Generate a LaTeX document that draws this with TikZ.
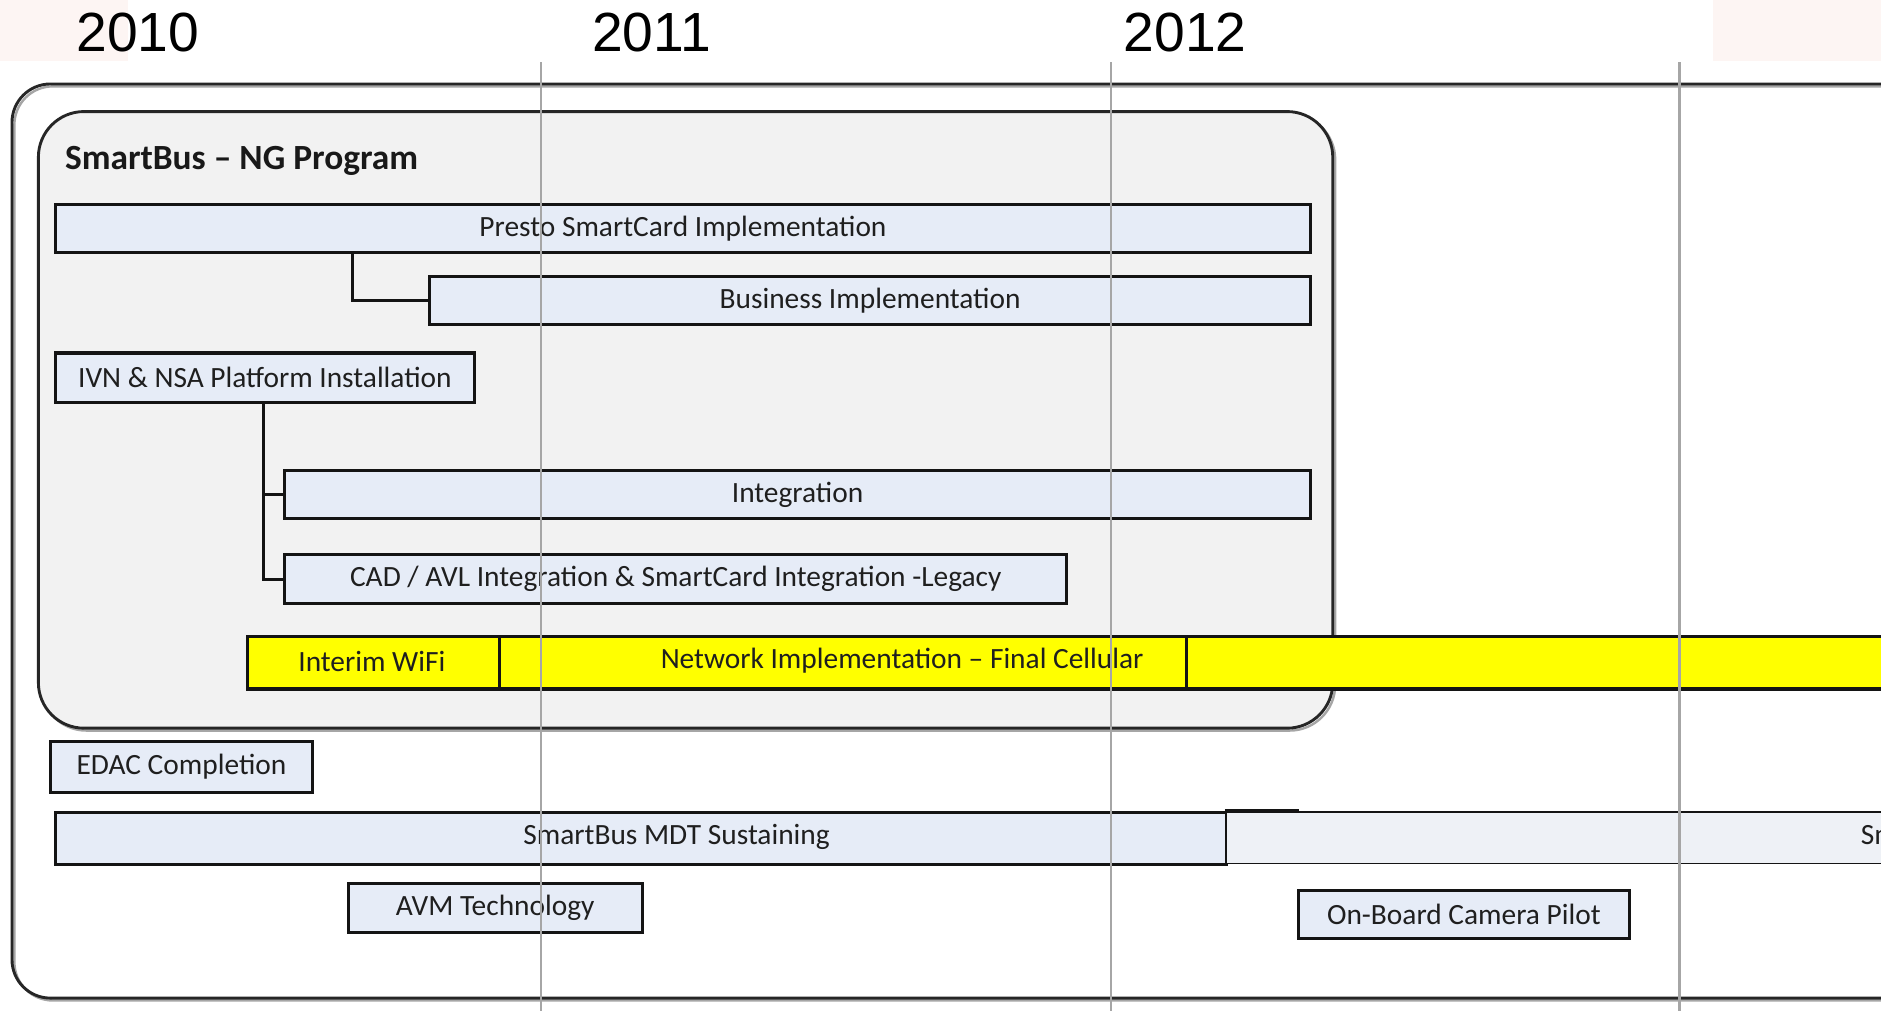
\documentclass[tikz,border=0pt]{standalone}
\usepackage{fontspec}
\setmainfont{Carlito}
\newfontfamily\yearfont{Liberation Sans}
\definecolor{barblue}{HTML}{E6ECF7}
\definecolor{contblue}{HTML}{EEF1F6}
\definecolor{innergray}{HTML}{F2F2F2}
\definecolor{pinkbg}{HTML}{FDF5F3}
\definecolor{gridgray}{HTML}{A6A6A6}
\definecolor{hiyellow}{HTML}{FFFF00}
\begin{document}
\begin{tikzpicture}[x=1pt,y=-1pt,
  bar/.style={draw=black!92, line width=2.6pt, fill=barblue, inner sep=0pt, anchor=north west,
    font=\fontsize{24.5}{28}\selectfont, text=black!88},
  ybar/.style={bar, fill=hiyellow},
  lbl/.style={inner sep=0pt, font=\fontsize{24.5}{28}\selectfont, text=black!88},
  conn/.style={draw=black!92, line width=2.6pt},
  gridline/.style={draw=gridgray, line width=2.2pt},
  year/.style={font=\yearfont\fontsize{46}{50}\selectfont, inner sep=0pt},
  frame/.style={draw=black!85, line width=2.4pt}]
\useasboundingbox (0,0) rectangle (1568,843);
\clip (0,0) rectangle (1568,843);
% background tints
\fill[pinkbg] (0,0) rectangle (107,51);
\fill[pinkbg] (1428,0) rectangle (1568,51);
% year labels
\node[year] (y2010) at (115,27) {2010};
\node[year] (y2011) at (543,27) {2011};
\node[year] (y2012) at (988,27) {2012};
% outer frame
\draw[draw=black!35, line width=2pt, rounded corners=32pt] (1700,72) -- (12,72) -- (12,834) -- (1700,834);
\draw[frame, rounded corners=32pt] (1700,70) -- (10,70) -- (10,832) -- (1700,832);
% inner program box
\draw[draw=black!35, line width=2pt, rounded corners=38pt] (34,95) rectangle (1113,609);
\draw[frame, fill=innergray, rounded corners=38pt] (32,93) rectangle (1111,607);
\node[anchor=west, inner sep=0pt, font=\bfseries\fontsize{29.5}{33}\selectfont, text=black!90] (title) at (54,134) {SmartBus – NG Program};
% bars
\node[bar, minimum width=1046pt, minimum height=40pt] (presto) at (45,169) {Presto SmartCard Implementation};
\node[bar, minimum width=734pt, minimum height=40pt] (business) at (357,229) {Business Implementation};
\node[bar, minimum width=349pt, minimum height=41pt] (ivn) at (45,293) {IVN \& NSA Platform Installation};
\node[bar, minimum width=855pt, minimum height=40pt] (integ) at (236,391) {Integration};
\node[bar, minimum width=652pt, minimum height=41pt] (cad) at (236,461) {CAD / AVL Integration \& SmartCard Integration -Legacy};
% connectors
\draw[conn] ([xshift=249pt]presto.south west) |- (business.west);
\coordinate (ivnx) at ([xshift=175pt]ivn.south west);
\draw[conn] (ivnx) |- (cad.west);
\draw[conn] (integ.west) -- (integ.west -| ivnx);
% network bar
\node[ybar, minimum width=210pt, minimum height=44pt] (wifi) at (205,529) {};
\node[lbl] (wifilbl) at (310,551) {Interim WiFi};
\node[ybar, minimum width=573pt, minimum height=44pt] (network) at (415,529) {};
\node[ybar, minimum width=640pt, minimum height=44pt] (cellcont) at (988,529) {};
\node[lbl] (netlbl) at (752,551) {Network Implementation – Final Cellular};
% lower items
\node[bar, minimum width=218pt, minimum height=42pt] (edac) at (41,617) {EDAC Completion};
\node[bar, minimum width=976pt, minimum height=43pt] (mdt) at (45,676) {};
\node[lbl] (mdtlbl) at (564,698) {SmartBus MDT Sustaining};
\node[bar, fill=contblue, line width=1.6pt, minimum width=640pt, minimum height=43pt] (mdtcont) at (1021,676) {};
\node[lbl, anchor=west] (mdtcontlbl) at (1551,698) {SmartBus MDT Sustaining};
\draw[conn] (mdtcont.north west) -- ([xshift=62pt]mdtcont.north west);
\node[bar, minimum width=245pt, minimum height=41pt] (avm) at (289,735) {AVM Technology};
\node[bar, minimum width=276pt, minimum height=40pt] (camera) at (1081,741) {On-Board Camera Pilot};
% year grid lines
\draw[gridline] (451,52) -- (451,843);
\draw[gridline] (926,52) -- (926,843);
\draw[gridline] (1400,52) -- (1400,843);
\end{tikzpicture}
\end{document}
